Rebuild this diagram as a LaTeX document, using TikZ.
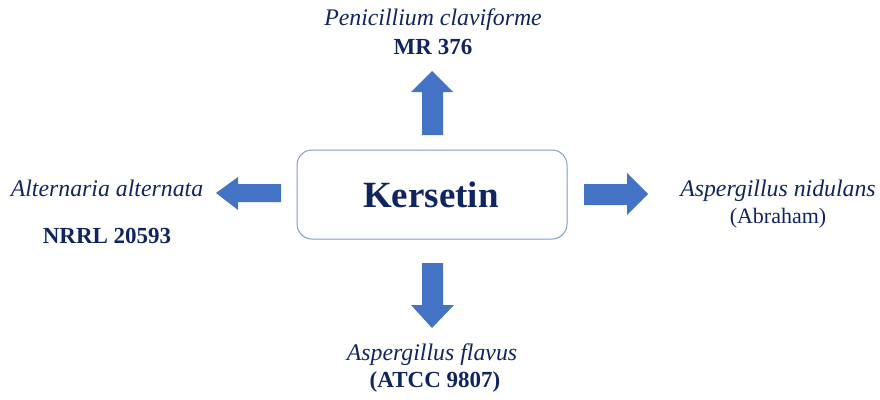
\documentclass[tikz,border=0pt]{standalone}
\usepackage{fontspec}
\setmainfont{Liberation Serif}
\definecolor{navy}{RGB}{16,36,96}
\definecolor{arrowblue}{RGB}{68,114,196}
\definecolor{boxline}{RGB}{132,156,200}
\begin{document}
\begin{tikzpicture}[x=1pt,y=-1pt,
  lbl/.style={text=navy,anchor=base,inner sep=0pt,font=\fontsize{23}{27}\selectfont},
  blockarrow/.style={fill=arrowblue,draw=none}]
\useasboundingbox (0,0) rectangle (880,399);
% central box
\node[draw=boxline,line width=1pt,rounded corners=15pt,minimum width=270pt,minimum height=89pt,inner sep=0pt] (box) at (432,194.5) {};
\node[text=navy,anchor=base,inner sep=0pt,font=\fontsize{37}{42}\selectfont\bfseries] (kers) at (431,207) {Kersetin};
% block arrows
\fill[blockarrow] (422,135) -- (422,92) -- (411,92) -- (432,71) -- (453,92) -- (443,92) -- (443,135) -- cycle;
\fill[blockarrow] (422,263) -- (422,305) -- (411,305) -- (432,328) -- (454,305) -- (443,305) -- (443,263) -- cycle;
\fill[blockarrow] (281,184) -- (238,184) -- (238,177) -- (216,193) -- (238,210) -- (238,202) -- (281,202) -- cycle;
\fill[blockarrow] (584,184) -- (627,184) -- (627,173) -- (648,194) -- (627,215) -- (627,205) -- (584,205) -- cycle;
% labels
\node[lbl,font=\fontsize{23.8}{27}\selectfont\itshape] (pen) at (433,25) {Penicillium claviforme};
\node[lbl,font=\fontsize{23}{27}\selectfont\bfseries] (mr) at (433,54) {MR 376};
\node[lbl,font=\fontsize{23.8}{27}\selectfont\itshape] (alt) at (107,196) {Alternaria alternata};
\node[lbl,font=\fontsize{23}{27}\selectfont\bfseries] (nrrl) at (107,243) {NRRL 20593};
\node[lbl,font=\fontsize{23.8}{27}\selectfont\itshape] (nid) at (778,196) {Aspergillus nidulans};
\node[lbl,font=\fontsize{22}{26}\selectfont] (abr) at (778,223) {(Abraham)};
\node[lbl,font=\fontsize{23.8}{27}\selectfont\itshape] (fla) at (432,360) {Aspergillus flavus};
\node[lbl,font=\fontsize{23}{27}\selectfont\bfseries] (atcc) at (435,387) {(ATCC 9807)};
\end{tikzpicture}
\end{document}
